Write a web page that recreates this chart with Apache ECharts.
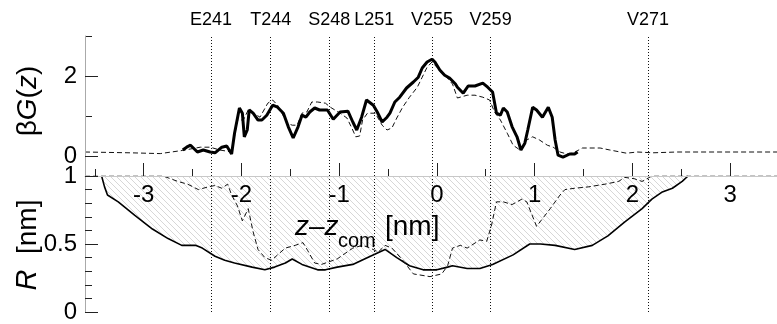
<!DOCTYPE html>
<html>
<head>
<meta charset="utf-8">
<script src="https://cdn.jsdelivr.net/npm/echarts@6/dist/echarts.min.js"></script>
<style>
  html, body { margin: 0; padding: 0; background: #fff; }
  #chart { width: 777px; height: 324px; }
</style>
</head>
<body>
<div id="chart"></div>
<script>
// residue markers (z position in nm)
var residueNames = ['E241', 'T244', 'S248', 'L251', 'V255', 'V259', 'V271']
var residuePos = [-2.31, -1.70, -1.10, -0.64, -0.05, 0.55, 2.16]

// tick positions
var xMajor = [-3, -2, -1, 0, 1, 2, 3]
var xMinor = [-3.5, -2.5, -1.5, -0.5, 0.5, 1.5, 2.5]
var gMajor = [0, 2]
var gMinor = [1, 3]

// top panel: beta G(z), thick solid
var gSolidZ = [-2.60, -2.56, -2.52, -2.45, -2.39, -2.32, -2.27, -2.20, -2.15, -2.10, -2.07, -2.02, -1.99, -1.97, -1.94, -1.92, -1.88, -1.83, -1.79, -1.74, -1.68, -1.63, -1.57, -1.52, -1.47, -1.42, -1.38, -1.34, -1.30, -1.25, -1.20, -1.12, -1.06, -0.99, -0.91, -0.86, -0.82, -0.77, -0.72, -0.65, -0.61, -0.56, -0.51, -0.48, -0.43, -0.38, -0.31, -0.24, -0.19, -0.15, -0.10, -0.05, -0.02, 0.03, 0.08, 0.13, 0.19, 0.21, 0.27, 0.32, 0.39, 0.47, 0.52, 0.57, 0.61, 0.65, 0.68, 0.72, 0.77, 0.82, 0.86, 0.90, 0.93, 0.98, 1.02, 1.08, 1.14, 1.18, 1.21, 1.24, 1.29, 1.36, 1.41, 1.44]
var gSolidV = [0.15, 0.22, 0.27, 0.10, 0.15, 0.10, 0.08, 0.22, 0.25, 0.05, 0.57, 1.20, 1.07, 0.48, 0.65, 1.15, 1.07, 0.90, 0.90, 1.02, 1.27, 1.22, 1.07, 0.73, 0.45, 0.73, 1.02, 0.97, 1.10, 1.20, 1.15, 1.15, 0.92, 1.10, 1.12, 0.85, 0.65, 0.97, 1.40, 1.27, 1.10, 0.85, 0.97, 1.07, 1.35, 1.47, 1.70, 1.85, 1.97, 2.20, 2.35, 2.42, 2.35, 2.15, 2.02, 1.95, 1.80, 1.72, 1.57, 1.75, 1.75, 1.82, 1.72, 1.60, 1.07, 1.02, 1.20, 1.10, 0.73, 0.48, 0.15, 0.32, 0.65, 1.22, 1.15, 0.97, 1.22, 0.97, 0.40, 0.02, -0.03, 0.05, 0.05, 0.10]

// top panel: dashed
var gDashZ = [-3.60, -3.14, -2.83, -2.60, -2.42, -2.32, -2.22, -2.10, -2.04, -1.98, -1.93, -1.86, -1.81, -1.73, -1.68, -1.63, -1.53, -1.48, -1.43, -1.38, -1.33, -1.28, -1.22, -1.14, -1.09, -0.99, -0.92, -0.87, -0.83, -0.79, -0.76, -0.71, -0.63, -0.56, -0.51, -0.46, -0.41, -0.35, -0.28, -0.20, -0.15, -0.10, -0.05, 0.00, 0.05, 0.10, 0.16, 0.21, 0.31, 0.39, 0.47, 0.54, 0.59, 0.65, 0.72, 0.78, 0.85, 0.92, 0.98, 1.05, 1.13, 1.19, 1.26, 1.33, 1.39, 1.49, 1.67, 1.77, 1.94, 2.05, 2.21, 2.46, 3.48]
var gDashV = [0.10, 0.08, 0.06, 0.14, 0.22, 0.22, 0.15, 0.10, 0.90, 0.90, 1.15, 1.05, 0.97, 1.32, 1.40, 1.27, 0.82, 0.77, 0.77, 1.07, 1.10, 1.35, 1.35, 1.32, 1.22, 1.07, 0.95, 0.70, 0.48, 0.50, 0.90, 1.07, 1.07, 0.77, 0.65, 0.70, 0.95, 1.22, 1.47, 1.72, 1.97, 2.22, 2.35, 2.22, 2.07, 1.97, 1.80, 1.45, 1.52, 1.52, 1.47, 1.40, 1.10, 0.90, 0.57, 0.27, 0.15, 0.40, 0.48, 0.40, 0.27, 0.22, 0.10, 0.05, 0.07, 0.20, 0.20, 0.15, 0.07, 0.10, 0.08, 0.10, 0.10]

// bottom panel: R, solid (hatched up to 1)
var rSolidZ = [-3.43, -3.40, -3.37, -3.26, -3.09, -2.91, -2.75, -2.61, -2.47, -2.40, -2.27, -2.17, -2.07, -1.89, -1.76, -1.66, -1.55, -1.48, -1.38, -1.22, -1.14, -1.02, -0.86, -0.68, -0.53, -0.41, -0.28, -0.14, 0.00, 0.11, 0.16, 0.31, 0.44, 0.57, 0.78, 0.95, 1.06, 1.21, 1.41, 1.59, 1.75, 1.92, 2.10, 2.20, 2.30, 2.41, 2.51, 2.57]
var rSolidV = [1.00, 0.92, 0.86, 0.81, 0.71, 0.61, 0.54, 0.49, 0.49, 0.47, 0.41, 0.38, 0.36, 0.33, 0.31, 0.33, 0.36, 0.39, 0.35, 0.31, 0.31, 0.33, 0.35, 0.41, 0.46, 0.40, 0.34, 0.31, 0.31, 0.33, 0.34, 0.32, 0.32, 0.35, 0.42, 0.50, 0.50, 0.49, 0.46, 0.49, 0.56, 0.66, 0.76, 0.83, 0.88, 0.91, 0.96, 1.00]

// bottom panel: R, dashed
var rDashZ = [-3.60, -2.80, -2.65, -2.55, -2.44, -2.34, -2.27, -2.20, -2.14, -2.10, -2.04, -1.99, -1.93, -1.88, -1.83, -1.76, -1.69, -1.63, -1.55, -1.45, -1.37, -1.32, -1.25, -1.18, -1.02, -0.86, -0.76, -0.68, -0.60, -0.53, -0.46, -0.36, -0.24, -0.07, 0.05, 0.11, 0.16, 0.24, 0.31, 0.44, 0.51, 0.56, 0.61, 0.68, 0.77, 0.87, 0.92, 1.02, 1.16, 1.26, 1.31, 1.41, 1.55, 1.72, 1.86, 1.92, 2.02, 2.10, 2.15, 2.20, 3.48]
var rDashV = [1.00, 1.00, 0.96, 0.94, 0.90, 0.92, 0.93, 0.91, 0.94, 0.86, 0.78, 0.67, 0.76, 0.59, 0.46, 0.40, 0.38, 0.42, 0.47, 0.49, 0.51, 0.45, 0.36, 0.35, 0.39, 0.47, 0.49, 0.47, 0.44, 0.49, 0.47, 0.39, 0.28, 0.26, 0.28, 0.34, 0.47, 0.49, 0.47, 0.53, 0.52, 0.64, 0.81, 0.81, 0.79, 0.83, 0.81, 0.63, 0.76, 0.86, 0.90, 0.91, 0.92, 0.94, 0.96, 0.99, 0.98, 0.96, 0.98, 1.00, 1.00]

function pairs(xs, ys) {
  return xs.map(function (x, i) { return [x, ys[i]] })
}

// diagonal hatch pattern
function hatch() {
  var s = 6
  var c = document.createElement('canvas')
  c.width = s
  c.height = s
  var ctx = c.getContext('2d')
  ctx.strokeStyle = '#d2d2d2'
  ctx.lineWidth = 0.9
  ;[-s, 0, s].forEach(function (o) {
    ctx.beginPath()
    ctx.moveTo(o, 0)
    ctx.lineTo(o + s, s)
    ctx.stroke()
  })
  return c
}

var FONT = "'Liberation Sans', Arial, sans-serif"
var X_MIN = -3.6
var X_MAX = 3.48

var chart = echarts.init(document.getElementById('chart'), null, { renderer: 'canvas' })

var resLines = residueNames.map(function (n, i) {
  return { name: n, xAxis: residuePos[i] }
})

chart.setOption({
  animation: false,
  backgroundColor: '#fff',
  grid: [
    { left: 85, right: 0, top: 36, height: 140 },
    { left: 85, right: 0, top: 176, height: 140 }
  ],
  xAxis: [
    {
      gridIndex: 0, type: 'value', min: X_MIN, max: X_MAX, position: 'bottom', z: 10,
      axisLine: { show: true, onZero: false, lineStyle: { color: '#c8c8c8', width: 1 } },
      axisTick: { show: true, inside: true, length: 13, customValues: xMajor, lineStyle: { color: '#222' } },
      axisLabel: { show: true, customValues: xMajor, fontSize: 24, color: '#000', fontFamily: FONT, margin: 7 },
      splitLine: { show: false }
    },
    {
      gridIndex: 0, type: 'value', min: X_MIN, max: X_MAX, position: 'bottom',
      axisLine: { show: false, onZero: false },
      axisTick: { show: true, inside: true, length: 7, customValues: xMinor, lineStyle: { color: '#222' } },
      axisLabel: { show: false },
      splitLine: { show: false }
    },
    {
      gridIndex: 1, type: 'value', min: X_MIN, max: X_MAX, show: false,
      axisLine: { onZero: false }
    }
  ],
  yAxis: [
    {
      gridIndex: 0, type: 'value', min: -0.5, max: 3, position: 'left', z: 10,
      axisLine: { show: true, onZero: false, lineStyle: { color: '#aaa' } },
      axisTick: { show: true, inside: true, length: 13, customValues: gMajor, lineStyle: { color: '#222' } },
      axisLabel: { show: true, customValues: gMajor, fontSize: 24, color: '#000', fontFamily: FONT, margin: 8 },
      splitLine: { show: false }
    },
    {
      gridIndex: 0, type: 'value', min: -0.5, max: 3, position: 'left', offset: 0,
      axisLine: { show: false, onZero: false },
      axisTick: { show: true, inside: true, length: 7, customValues: gMinor, lineStyle: { color: '#222' } },
      axisLabel: { show: false },
      splitLine: { show: false }
    },
    {
      gridIndex: 1, type: 'value', min: 0, max: 1, interval: 0.5, position: 'left', z: 10,
      axisLine: { show: true, onZero: false, lineStyle: { color: '#aaa' } },
      axisTick: { show: true, inside: true, length: 13, lineStyle: { color: '#222' } },
      minorTick: { show: true, splitNumber: 5, length: 7, lineStyle: { color: '#222' } },
      axisLabel: {
        show: true, fontSize: 24, color: '#000', fontFamily: FONT, margin: 8,
        formatter: function (v) { return String(v) }
      },
      splitLine: { show: false }
    }
  ],
  graphic: [
    {
      type: 'text', x: 28, y: 101, rotation: Math.PI / 2,
      style: {
        text: '{n|β}{i|G}{n|(}{i|z}{n|)}', align: 'center', verticalAlign: 'middle',
        rich: {
          n: { fontSize: 28, fontFamily: FONT, fill: '#000' },
          i: { fontSize: 28, fontFamily: FONT, fontStyle: 'italic', fill: '#000' }
        }
      }
    },
    {
      type: 'text', x: 28, y: 245, rotation: Math.PI / 2,
      style: {
        text: '{i|R}{n|  [nm]}', align: 'center', verticalAlign: 'middle',
        rich: {
          n: { fontSize: 28, fontFamily: FONT, fill: '#000' },
          i: { fontSize: 29, fontFamily: FONT, fontStyle: 'italic', fill: '#000' }
        }
      }
    },
    {
      type: 'text', x: 295, y: 227, z: 20,
      style: {
        text: '{i|z}{n|–}{i|z}', align: 'left', verticalAlign: 'middle',
        rich: {
          n: { fontSize: 28, fontFamily: FONT, fill: '#000' },
          i: { fontSize: 28, fontFamily: FONT, fontStyle: 'italic', fill: '#000' }
        }
      }
    },
    {
      type: 'text', x: 338, y: 241, z: 20,
      style: { text: 'com', fontSize: 20, fontFamily: FONT, fill: '#000', align: 'left', verticalAlign: 'middle' }
    },
    {
      type: 'text', x: 385, y: 227, z: 20,
      style: { text: '[nm]', fontSize: 28, fontFamily: FONT, fill: '#000', align: 'left', verticalAlign: 'middle' }
    }
  ],
  series: [
    {
      type: 'line', xAxisIndex: 0, yAxisIndex: 0, data: pairs(gDashZ, gDashV),
      showSymbol: false, symbol: 'none', z: 3,
      lineStyle: { color: '#111', width: 1, type: [5, 3] },
      markLine: {
        silent: true, symbol: 'none', animation: false,
        lineStyle: { color: '#111', width: 1, type: [1, 2] },
        label: { show: true, position: 'end', formatter: '{b}', fontSize: 18, color: '#000', fontFamily: FONT, distance: 7 },
        data: resLines
      }
    },
    {
      type: 'line', xAxisIndex: 0, yAxisIndex: 0, data: pairs(gSolidZ, gSolidV),
      showSymbol: false, symbol: 'none', z: 4,
      lineStyle: { color: '#000', width: 3 }
    },
    {
      type: 'line', xAxisIndex: 2, yAxisIndex: 2, data: pairs(rSolidZ, rSolidV),
      showSymbol: false, symbol: 'none', z: 3,
      lineStyle: { color: '#000', width: 1.6 },
      areaStyle: { origin: 'end', color: { image: hatch(), repeat: 'repeat' }, opacity: 1 },
      markLine: {
        silent: true, symbol: 'none', animation: false,
        lineStyle: { color: '#111', width: 1, type: [1, 2] },
        label: { show: false },
        data: resLines
      }
    },
    {
      type: 'line', xAxisIndex: 2, yAxisIndex: 2, data: pairs(rDashZ, rDashV),
      showSymbol: false, symbol: 'none', z: 4,
      lineStyle: { color: '#111', width: 1, type: [5, 3] }
    }
  ]
})
</script>
</body>
</html>
